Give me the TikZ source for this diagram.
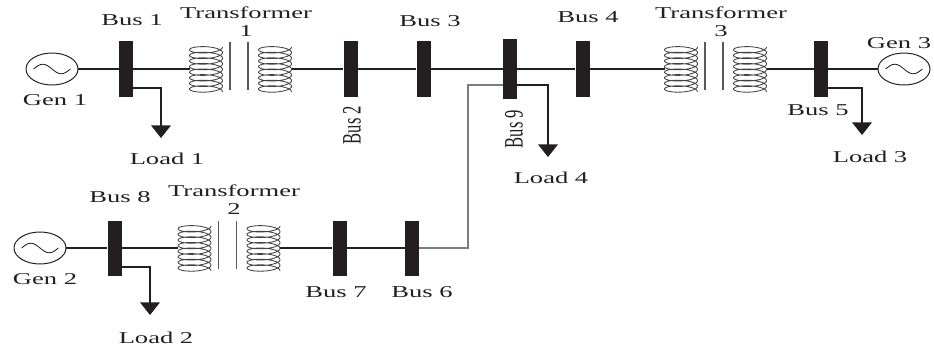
\documentclass[tikz,border=0pt]{standalone}
\usepackage{fontspec}
\usepackage{graphicx}
\setmainfont{Liberation Serif}[FakeStretch=1.6]
\newfontfamily\uprightfont{Liberation Serif}
\usetikzlibrary{arrows.meta,shapes.geometric}
\definecolor{inkblack}{HTML}{231F20}
\definecolor{tiegray}{HTML}{7C7C7C}

\begin{document}
\begin{tikzpicture}[
    x=0.25mm, y=-0.25mm,
    >={Triangle[width=14pt,length=9pt]},
    font=\fontsize{11.8}{12.8}\selectfont,
    text=inkblack,
    bus/.style={
		rectangle,
		draw=none,
		fill=inkblack,
		minimum width=3.5mm,
		minimum height=13.75mm,
		inner sep=0pt
	},
	gen/.style={
		ellipse,
		draw=inkblack,
		line width=0.7pt,
		minimum width=13mm,
		minimum height=8mm,
		inner sep=0pt,
		path picture={
			\draw[line width=0.6pt] ([xshift=-4.6mm]path picture bounding box.center)
			  sin ++(2.3mm,1.2mm) cos ++(2.3mm,-1.2mm) sin ++(2.3mm,-1.2mm) cos ++(2.3mm,1.2mm);
		}
	},
	wire/.style={draw=inkblack, line width=0.8pt},
	tie/.style={draw=tiegray, line width=1.1pt},
	load/.style={draw=inkblack, line width=1.2pt},
	coilwire/.style={draw=inkblack!85, line width=0.6pt},
	core/.style={draw=gray!70!black, line width=1.2pt},
	vlbl/.style={rotate=90, inner sep=0pt},
	xfmr/.pic={
		\foreach \cx in {-34.5,34.5}
			\draw[coilwire] plot[domain=0:2880, samples=320, smooth]
			  ({\cx+16.5*cos(\x)},{-22+\x/360*5.6+4.5*sin(\x)});
		\draw[core] (-10.5,-27) -- (-10.5,21);
		\draw[core] (7.5,-27) -- (7.5,21);
		\coordinate (-in) at (-51,0);
		\coordinate (-out) at (51,0);
	}
  ]
  \useasboundingbox (0,0) rectangle (934,347);

  % generators
  \node [gen] (gen1) at (52,69) {};
  \node [gen] (gen2) at (40,248) {};
  \node [gen] (gen3) at (904,69) {};

  % buses, top row
  \node [bus] (bus1) at (126,69) {};
  \node [bus] (bus2) at (350.5,69) {};
  \node [bus] (bus3) at (423.5,69) {};
  \node [bus, minimum height=15mm] (bus9) at (510,69) {};
  \node [bus] (bus4) at (582.5,69) {};
  \node [bus] (bus5) at (821,69) {};

  % buses, bottom row
  \node [bus] (bus8) at (114.5,248) {};
  \node [bus] (bus7) at (339.5,248) {};
  \node [bus] (bus6) at (412,248) {};

  % transformers
  \pic (t1) at (240.5,69) {xfmr};
  \pic (t3) at (715.5,69) {xfmr};
  \pic (t2) at (229,248) {xfmr};

  % lines
  \draw [wire] (gen1) -- (bus1) -- (t1-in);
  \draw [wire] (t1-out) -- (bus2) -- (bus3) -- (bus9) -- (bus4) -- (t3-in);
  \draw [wire] (t3-out) -- (bus5) -- (gen3);
  \draw [wire] (gen2) -- (bus8) -- (t2-in);
  \draw [wire] (t2-out) -- (bus7) -- (bus6);

  \coordinate (corner) at (468,248);
  \coordinate (b9tap) at (503,85);
  \draw [tie] (bus6) -- (corner) |- (b9tap);

  % loads
  \coordinate (load1tip) at (161,138);
  \coordinate (load2tip) at (150,315);
  \coordinate (load3tip) at (862,135);
  \coordinate (load4tip) at (548,157);
  \draw [load,->] (bus1.east |- 0,88) -| (load1tip);
  \draw [load,->] (bus8.east |- 0,267) -| (load2tip);
  \draw [load,->] (bus5.east |- 0,88) -| (load3tip);
  \draw [load,->] (bus9.east |- 0,85) -| (load4tip);

  % labels
  \node (gen1lbl) at (55,100) {Gen 1};
  \node (gen2lbl) at (45,279) {Gen 2};
  \node (gen3lbl) at (899,43) {Gen 3};
  \node (bus1lbl) at (132,20) {Bus 1};
  \node (bus3lbl) at (430,21) {Bus 3};
  \node (bus4lbl) at (588,17) {Bus 4};
  \node (bus5lbl) at (818,110) {Bus 5};
  \node (bus8lbl) at (120,197) {Bus 8};
  \node (bus7lbl) at (336,292) {Bus 7};
  \node (bus6lbl) at (422,292) {Bus 6};
  \node [vlbl] (bus2lbl) at (352,125) {\scalebox{1}[1.6]{\uprightfont Bus 2}};
  \node [vlbl] (bus9lbl) at (514,129) {\scalebox{1}[1.6]{\uprightfont Bus 9}};
  \node (load1lbl) at (167,159) {Load 1};
  \node (load2lbl) at (156,338) {Load 2};
  \node (load3lbl) at (870,157) {Load 3};
  \node (load4lbl) at (551,178) {Load 4};
  \node [align=center] (t1lbl) at (246,22) {Transformer\\1};
  \node [align=center] (t3lbl) at (721,22) {Transformer\\3};
  \node [align=center] (t2lbl) at (234,200) {Transformer\\2};

\end{tikzpicture}
\end{document}
